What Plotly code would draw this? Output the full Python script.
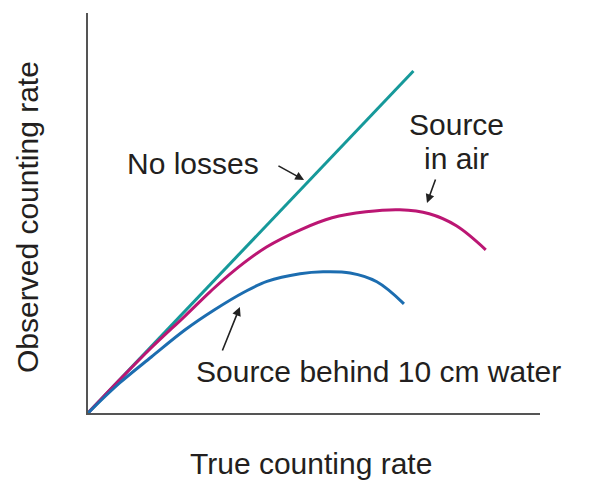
import plotly.graph_objects as go

# Values (arbitrary units, axes 0-100)
true_rate_noloss = [0, 72]
obs_noloss = [0, 85.5]

true_rate_air = [0, 7, 14, 21.5, 27, 32, 39.5, 47, 54, 61.5, 69, 75.5, 81.5, 88]
obs_air = [0, 8.3, 16.3, 24.3, 30.3, 35.3, 41.5, 45.8, 48.8, 50.3, 50.8, 49.8, 46.8, 40.8]

true_rate_water = [0, 7, 14, 21.5, 28, 34.7, 39.6, 46.9, 52, 58, 63.9, 69.9]
obs_water = [0, 7.5, 14, 20.8, 25.8, 30.3, 32.9, 34.8, 35.3, 35, 32.8, 27.3]

FONT = "Liberation Sans, Arial, sans-serif"
TXT = "#231f20"
FS = 30

fig = go.Figure()
fig.add_trace(go.Scatter(x=true_rate_noloss, y=obs_noloss, mode="lines",
                         line=dict(color="#16999a", width=3), showlegend=False))
fig.add_trace(go.Scatter(x=true_rate_air, y=obs_air, mode="lines", line_shape="spline",
                         line=dict(color="#bb1673", width=3), showlegend=False))
fig.add_trace(go.Scatter(x=true_rate_water, y=obs_water, mode="lines", line_shape="spline",
                         line=dict(color="#1c6db0", width=3), showlegend=False))

def label(text, x, y, angle=0, ref="data"):
    xr, yr = ("x", "y") if ref == "data" else ("paper", "paper")
    fig.add_annotation(x=x, y=y, xref=xr, yref=yr, text=text, showarrow=False,
                       textangle=angle, xanchor="center", yanchor="middle",
                       font=dict(family=FONT, size=FS, color=TXT))

label("No losses", 23.2, 62.5)
label("Source", 81.6, 72.25)
label("in air", 81.6, 63.75)
label("Source behind 10 cm water", 64.2, 10.5)
label("True counting rate", 0.4934, -0.125, ref="paper")
label("Observed counting rate", -0.135, 0.49, angle=-90, ref="paper")

def arrow(tx, ty, hx, hy):
    fig.add_annotation(x=hx, y=hy, ax=tx, ay=ty, xref="x", yref="y", axref="x", ayref="y",
                       text="", showarrow=True, arrowhead=2, arrowsize=1.1,
                       arrowwidth=1.6, arrowcolor="#222222", standoff=0)

arrow(41.8, 62, 47.8, 58.25)
arrow(77, 58.75, 75, 52.5)
arrow(29.6, 15.25, 33.6, 26.5)

axis_common = dict(showline=True, linecolor="#555555", linewidth=2, showgrid=False,
                   zeroline=False, showticklabels=False, ticks="")
fig.update_xaxes(range=[0, 100], **axis_common)
fig.update_yaxes(range=[0, 100], **axis_common)

fig.update_layout(width=595, height=480, margin=dict(l=88, r=55, t=13, b=67),
                  plot_bgcolor="white", paper_bgcolor="white", showlegend=False)

fig.write_html("out.html")
